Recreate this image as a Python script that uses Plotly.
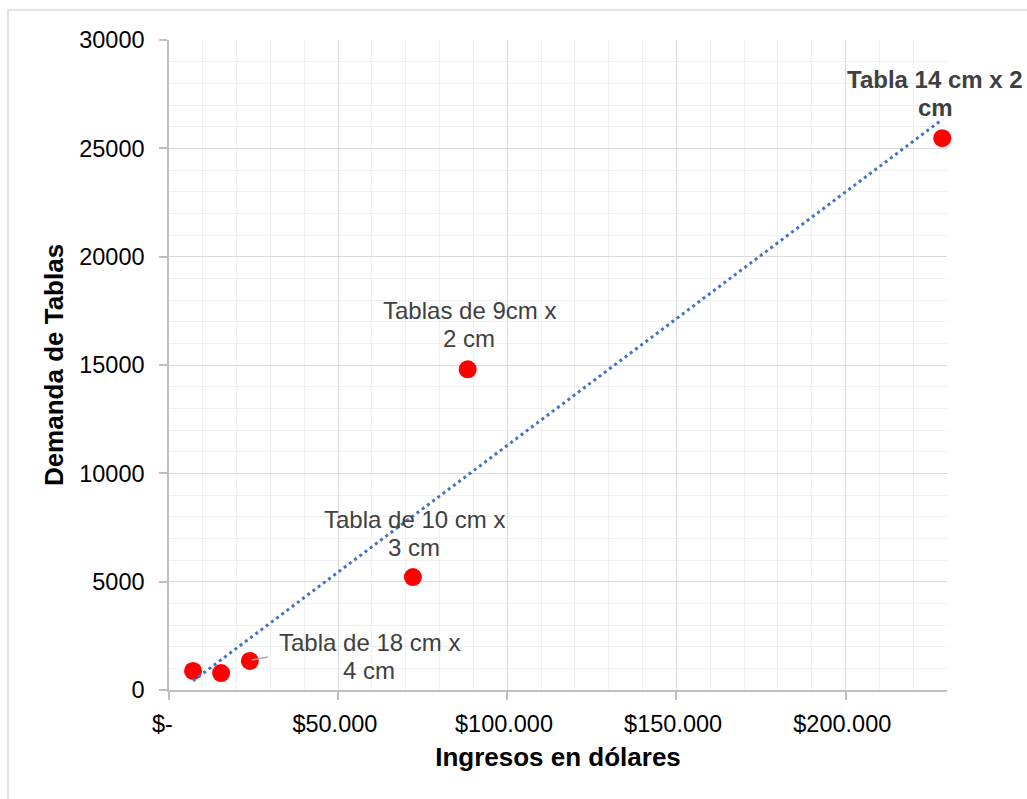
import numpy as np
import plotly.graph_objects as go

# Ingresos (USD) y demanda por tipo de tabla
ingresos = [7100, 15400, 23900, 72100, 88300, 228600]
demanda = [880, 780, 1340, 5210, 14800, 25470]

x_tickvals = [0, 50000, 100000, 150000, 200000]
x_ticktext = ["$-\u00a0\u00a0", "$50.000\u00a0", "$100.000\u00a0", "$150.000\u00a0", "$200.000\u00a0"]
y_tickvals = [0, 5000, 10000, 15000, 20000, 25000, 30000]
y_ticktext = ["0", "5000", "10000", "15000", "20000", "25000", "30000"]

FONT = "Liberation Sans, Arial, sans-serif"

# Tendencia lineal por mínimos cuadrados
slope, intercept = np.polyfit(ingresos, demanda, 1)
trend_x = [min(ingresos), max(ingresos)]
trend_y = [slope * v + intercept for v in trend_x]

fig = go.Figure()
fig.add_trace(go.Scatter(
    x=ingresos, y=demanda, mode="markers",
    marker=dict(size=18, color="#ff0000", line=dict(width=0)),
    cliponaxis=False, showlegend=False, hoverinfo="skip",
))
fig.add_trace(go.Scatter(
    x=trend_x, y=trend_y, mode="lines",
    line=dict(color="#4472c4", width=3, dash="3px,3.5px"),
    cliponaxis=False, showlegend=False, hoverinfo="skip",
))

# Etiquetas de datos (dos renglones cada una)
labels = [
    (88300, 14800, ["Tablas de 9cm x", "2 cm"], 1.5, 44.5, False),
    (72100, 5210, ["Tabla de 10 cm x", "3 cm"], 1.5, 43.5, False),
    (23900, 1340, ["Tabla de 18 cm x", "4 cm"], 119.5, 4, False),
    (228600, 25470, ["Tabla 14 cm x 2", "cm"], -7, 45, True),
]
LINE_H = 28
annotations = []
for lx, ly, lines, dx, dy, bold in labels:
    n = len(lines)
    for i, line in enumerate(lines):
        txt = f"<b>{line}</b>" if bold else line
        annotations.append(dict(
            x=lx, y=ly, xref="x", yref="y", text=txt, showarrow=False,
            xshift=dx, yshift=dy + (n - 1) / 2 * LINE_H - i * LINE_H,
            font=dict(family=FONT, size=24, color="#404040"),
            xanchor="center", yanchor="middle",
        ))

shapes = [
    # línea guía de la etiqueta de 18 cm
    dict(type="line", xref="x", yref="y", xsizemode="pixel", ysizemode="pixel",
         xanchor=ingresos[2], yanchor=demanda[2], x0=2, x1=18, y0=1, y1=4,
         line=dict(color="#a6a6a6", width=1.5)),
    # borde del área del gráfico
    dict(type="rect", xref="paper", yref="paper",
         x0=(8 - 169) / 778, x1=(1035 - 169) / 778,
         y0=(690 - 810) / 650, y1=(690 - 10) / 650,
         line=dict(color="#d9d9d9", width=1.5), fillcolor="rgba(0,0,0,0)", layer="below"),
]

axis_common = dict(
    showline=True, linecolor="#bfbfbf", linewidth=1.5,
    ticks="outside", ticklen=8, tickcolor="#bfbfbf", tickwidth=1.5,
    showgrid=True, gridcolor="#d9d9d9", gridwidth=1.2,
    zeroline=False,
    tickfont=dict(family=FONT, size=23.5, color="#000000"),
)

fig.update_xaxes(
    range=[0, 230000], tickmode="array", tickvals=x_tickvals, ticktext=x_ticktext,
    minor=dict(dtick=10000, tick0=0, showgrid=True, gridcolor="#f0f0f0", gridwidth=1.2, ticks=""),
    title=dict(text="<b>Ingresos en dólares</b>", standoff=12,
               font=dict(family=FONT, size=26, color="#000000")),
    ticklabelstandoff=4,
    **axis_common,
)
fig.update_yaxes(
    range=[0, 30000], tickmode="array", tickvals=y_tickvals, ticktext=y_ticktext,
    minor=dict(dtick=1000, tick0=0, showgrid=True, gridcolor="#f0f0f0", gridwidth=1.2, ticks=""),
    title=dict(text="<b>Demanda de Tablas</b>", standoff=8,
               font=dict(family=FONT, size=26, color="#000000")),
    ticklabelstandoff=10,
    **axis_common,
)

fig.update_layout(
    width=1027, height=799,
    margin=dict(l=169, r=80, t=40, b=109, pad=0),
    paper_bgcolor="#ffffff", plot_bgcolor="#ffffff",
    annotations=annotations, shapes=shapes,
    font=dict(family=FONT),
)

fig.write_html("out.html", include_plotlyjs=True, config={"displayModeBar": False})
